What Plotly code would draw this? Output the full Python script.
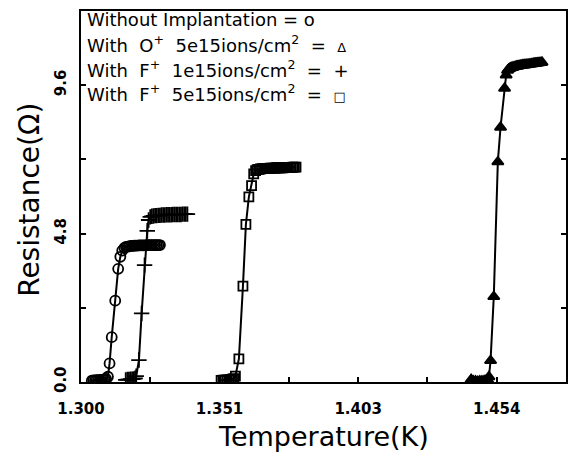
import plotly.graph_objects as go

# ---- data (Temperature K, Resistance Ohm) ----
t_none = [1.3040, 1.3046, 1.3052, 1.3058, 1.3064, 1.3070, 1.3076, 1.3082, 1.3088, 1.3093,
          1.3100, 1.3106, 1.3114, 1.3127, 1.3138, 1.3146, 1.3153, 1.3161,
          1.3167, 1.3173, 1.3179, 1.3185, 1.3191, 1.3197, 1.3203, 1.3209, 1.3215, 1.3221,
          1.3227, 1.3233, 1.3239, 1.3245, 1.3251, 1.3257, 1.3263, 1.3269, 1.3275, 1.3281,
          1.3287, 1.3293]
r_none = [0.04, 0.05, 0.05, 0.06, 0.06, 0.07, 0.07, 0.08, 0.09, 0.10,
          0.17, 0.60, 1.45, 2.63, 3.66, 4.05, 4.25, 4.34,
          4.37, 4.38, 4.39, 4.40, 4.40, 4.41, 4.41, 4.41, 4.42, 4.42,
          4.42, 4.42, 4.42, 4.43, 4.43, 4.43, 4.43, 4.43, 4.43, 4.43,
          4.43, 4.43]

t_o = [1.4448, 1.4456, 1.4464, 1.4472, 1.4480, 1.4488, 1.4496, 1.4503, 1.4509,
       1.4514, 1.4520, 1.4532, 1.4547, 1.4557, 1.4572, 1.4578,
       1.4583, 1.4587, 1.4591, 1.4595, 1.4599, 1.4603, 1.4607, 1.4611, 1.4615, 1.4619,
       1.4623, 1.4627, 1.4631, 1.4635, 1.4639, 1.4643, 1.4647, 1.4651, 1.4655, 1.4659,
       1.4663, 1.4667, 1.4671, 1.4675, 1.4679, 1.4683, 1.4687, 1.4691, 1.4695, 1.4699,
       1.4703, 1.4707, 1.4711]
r_o = [0.08, 0.03, 0.03, 0.02, 0.03, 0.03, 0.04, 0.05, 0.08,
       0.17, 0.69, 2.76, 7.12, 8.24, 9.50, 9.93,
       10.08, 10.12, 10.14, 10.16, 10.17, 10.18, 10.19, 10.20, 10.21, 10.22,
       10.22, 10.23, 10.24, 10.24, 10.25, 10.25, 10.26, 10.26, 10.27, 10.27,
       10.28, 10.28, 10.29, 10.29, 10.30, 10.30, 10.31, 10.31, 10.32, 10.32,
       10.33, 10.33, 10.34]

t_f1 = [1.3166, 1.3172, 1.3178, 1.3184, 1.3190, 1.3196, 1.3201,
        1.3205, 1.3215, 1.3225, 1.3236, 1.3246, 1.3251,
        1.3257, 1.3263, 1.3269, 1.3275, 1.3281, 1.3287, 1.3293, 1.3299, 1.3305, 1.3311,
        1.3317, 1.3323, 1.3329, 1.3335, 1.3341, 1.3347, 1.3353, 1.3359, 1.3365, 1.3371,
        1.3377, 1.3383, 1.3389, 1.3395]
r_f1 = [0.07, 0.08, 0.08, 0.09, 0.09, 0.10, 0.12,
        0.19, 0.71, 2.22, 3.78, 4.89, 5.24,
        5.34, 5.36, 5.37, 5.38, 5.38, 5.39, 5.39, 5.40, 5.40, 5.40,
        5.41, 5.41, 5.41, 5.41, 5.42, 5.42, 5.42, 5.42, 5.42, 5.42,
        5.43, 5.43, 5.43, 5.43]

t_f5 = [1.3520, 1.3527, 1.3534, 1.3541, 1.3548, 1.3555, 1.3562, 1.3567,
        1.3573, 1.3586, 1.3601, 1.3612, 1.3623, 1.3633, 1.3641,
        1.3648, 1.3654, 1.3660, 1.3666, 1.3672, 1.3678, 1.3684, 1.3690, 1.3696, 1.3702,
        1.3708, 1.3714, 1.3720, 1.3726, 1.3732, 1.3738, 1.3744, 1.3750, 1.3756, 1.3762,
        1.3768, 1.3774, 1.3780, 1.3786, 1.3792, 1.3798]
r_f5 = [0.05, 0.06, 0.06, 0.07, 0.07, 0.08, 0.09, 0.11,
        0.19, 0.75, 3.10, 5.10, 5.99, 6.35, 6.73,
        6.84, 6.87, 6.88, 6.89, 6.90, 6.90, 6.91, 6.91, 6.91, 6.92,
        6.92, 6.92, 6.92, 6.93, 6.93, 6.93, 6.93, 6.93, 6.94, 6.94,
        6.94, 6.94, 6.94, 6.95, 6.95, 6.95]

x_tickvals = [1.30, 1.3257143, 1.3514286, 1.3771429, 1.4028571, 1.4285714, 1.4542857, 1.48]
x_ticktext = ["1.300", "", "1.351", "", "1.403", "", "1.454", ""]
y_tickvals = [0.0, 2.4, 4.8, 7.2, 9.6, 12.0]
y_ticktext = ["0.0", "", "4.8", "", "9.6", ""]

NB = "\u00a0"
legend_lines = [
    "Without Implantation = o",
    f"With{NB} O<sup>+</sup>{NB} 5e15ions/cm<sup>2</sup>{NB} ={NB} <span style='font-size:13px'>Δ</span>",
    f"With{NB} F<sup>+</sup>{NB} 1e15ions/cm<sup>2</sup>{NB} ={NB} +",
    f"With{NB} F<sup>+</sup>{NB} 5e15ions/cm<sup>2</sup>{NB} ={NB} <span style='font-size:13px'>□</span>",
]

FONT = "DejaVu Sans, Verdana, sans-serif"

fig = go.Figure()
series = [
    (t_none, r_none, "circle-open", 10),
    (t_f1, r_f1, "cross-thin-open", 11),
    (t_f5, r_f5, "square-open", 9),
    (t_o, r_o, "triangle-up", 10),
]
for t, r, sym, sz in series:
    fig.add_trace(go.Scatter(
        x=t, y=r, mode="lines+markers",
        line=dict(color="black", width=2),
        marker=dict(symbol=sym, size=sz, color="black",
                    line=dict(color="black", width=1.8)),
        showlegend=False, hoverinfo="skip"))

for i, txt in enumerate(legend_lines):
    fig.add_annotation(
        xref="paper", yref="paper", x=0.008, y=0.976 - i * 0.066,
        xanchor="left", yanchor="middle", showarrow=False,
        text=txt,
        font=dict(family=FONT, size=18, color="black"))

# axis titles
fig.add_annotation(xref="paper", yref="paper", x=0.5, y=-0.148,
                   xanchor="center", yanchor="middle", showarrow=False,
                   text="Temperature(K)",
                   font=dict(family=FONT, size=27, color="black"))
fig.add_annotation(xref="paper", yref="paper", x=-0.106, y=0.49,
                   xanchor="center", yanchor="middle", showarrow=False,
                   text="Resistance(Ω)", textangle=-90,
                   font=dict(family=FONT, size=28, color="black"))

fig.update_layout(
    width=568, height=444,
    margin=dict(l=73, r=10, t=3, b=70),
    paper_bgcolor="white", plot_bgcolor="white",
    font=dict(family=FONT, color="black"),
    xaxis=dict(
        range=[1.30, 1.48], tickmode="array", tickvals=x_tickvals, ticktext=x_ticktext,
        ticks="inside", ticklen=5, tickwidth=1.5, tickcolor="black",
        showline=True, linecolor="black", linewidth=2, mirror=True,
        showgrid=False, zeroline=False, automargin=False, ticklabelstandoff=12,
        tickfont=dict(size=15, family=FONT, color="black", weight="bold"),
    ),
    yaxis=dict(
        range=[0, 12.0], tickmode="array", tickvals=y_tickvals, ticktext=y_ticktext,
        ticks="inside", ticklen=5, tickwidth=1.5, tickcolor="black",
        showline=True, linecolor="black", linewidth=2, mirror="ticks",
        showgrid=False, zeroline=False, tickangle=-90, automargin=False,
        ticklabelstandoff=7,
        tickfont=dict(size=15, family=FONT, color="black", weight="bold"),
    ),
)

fig.write_html("out.html")
